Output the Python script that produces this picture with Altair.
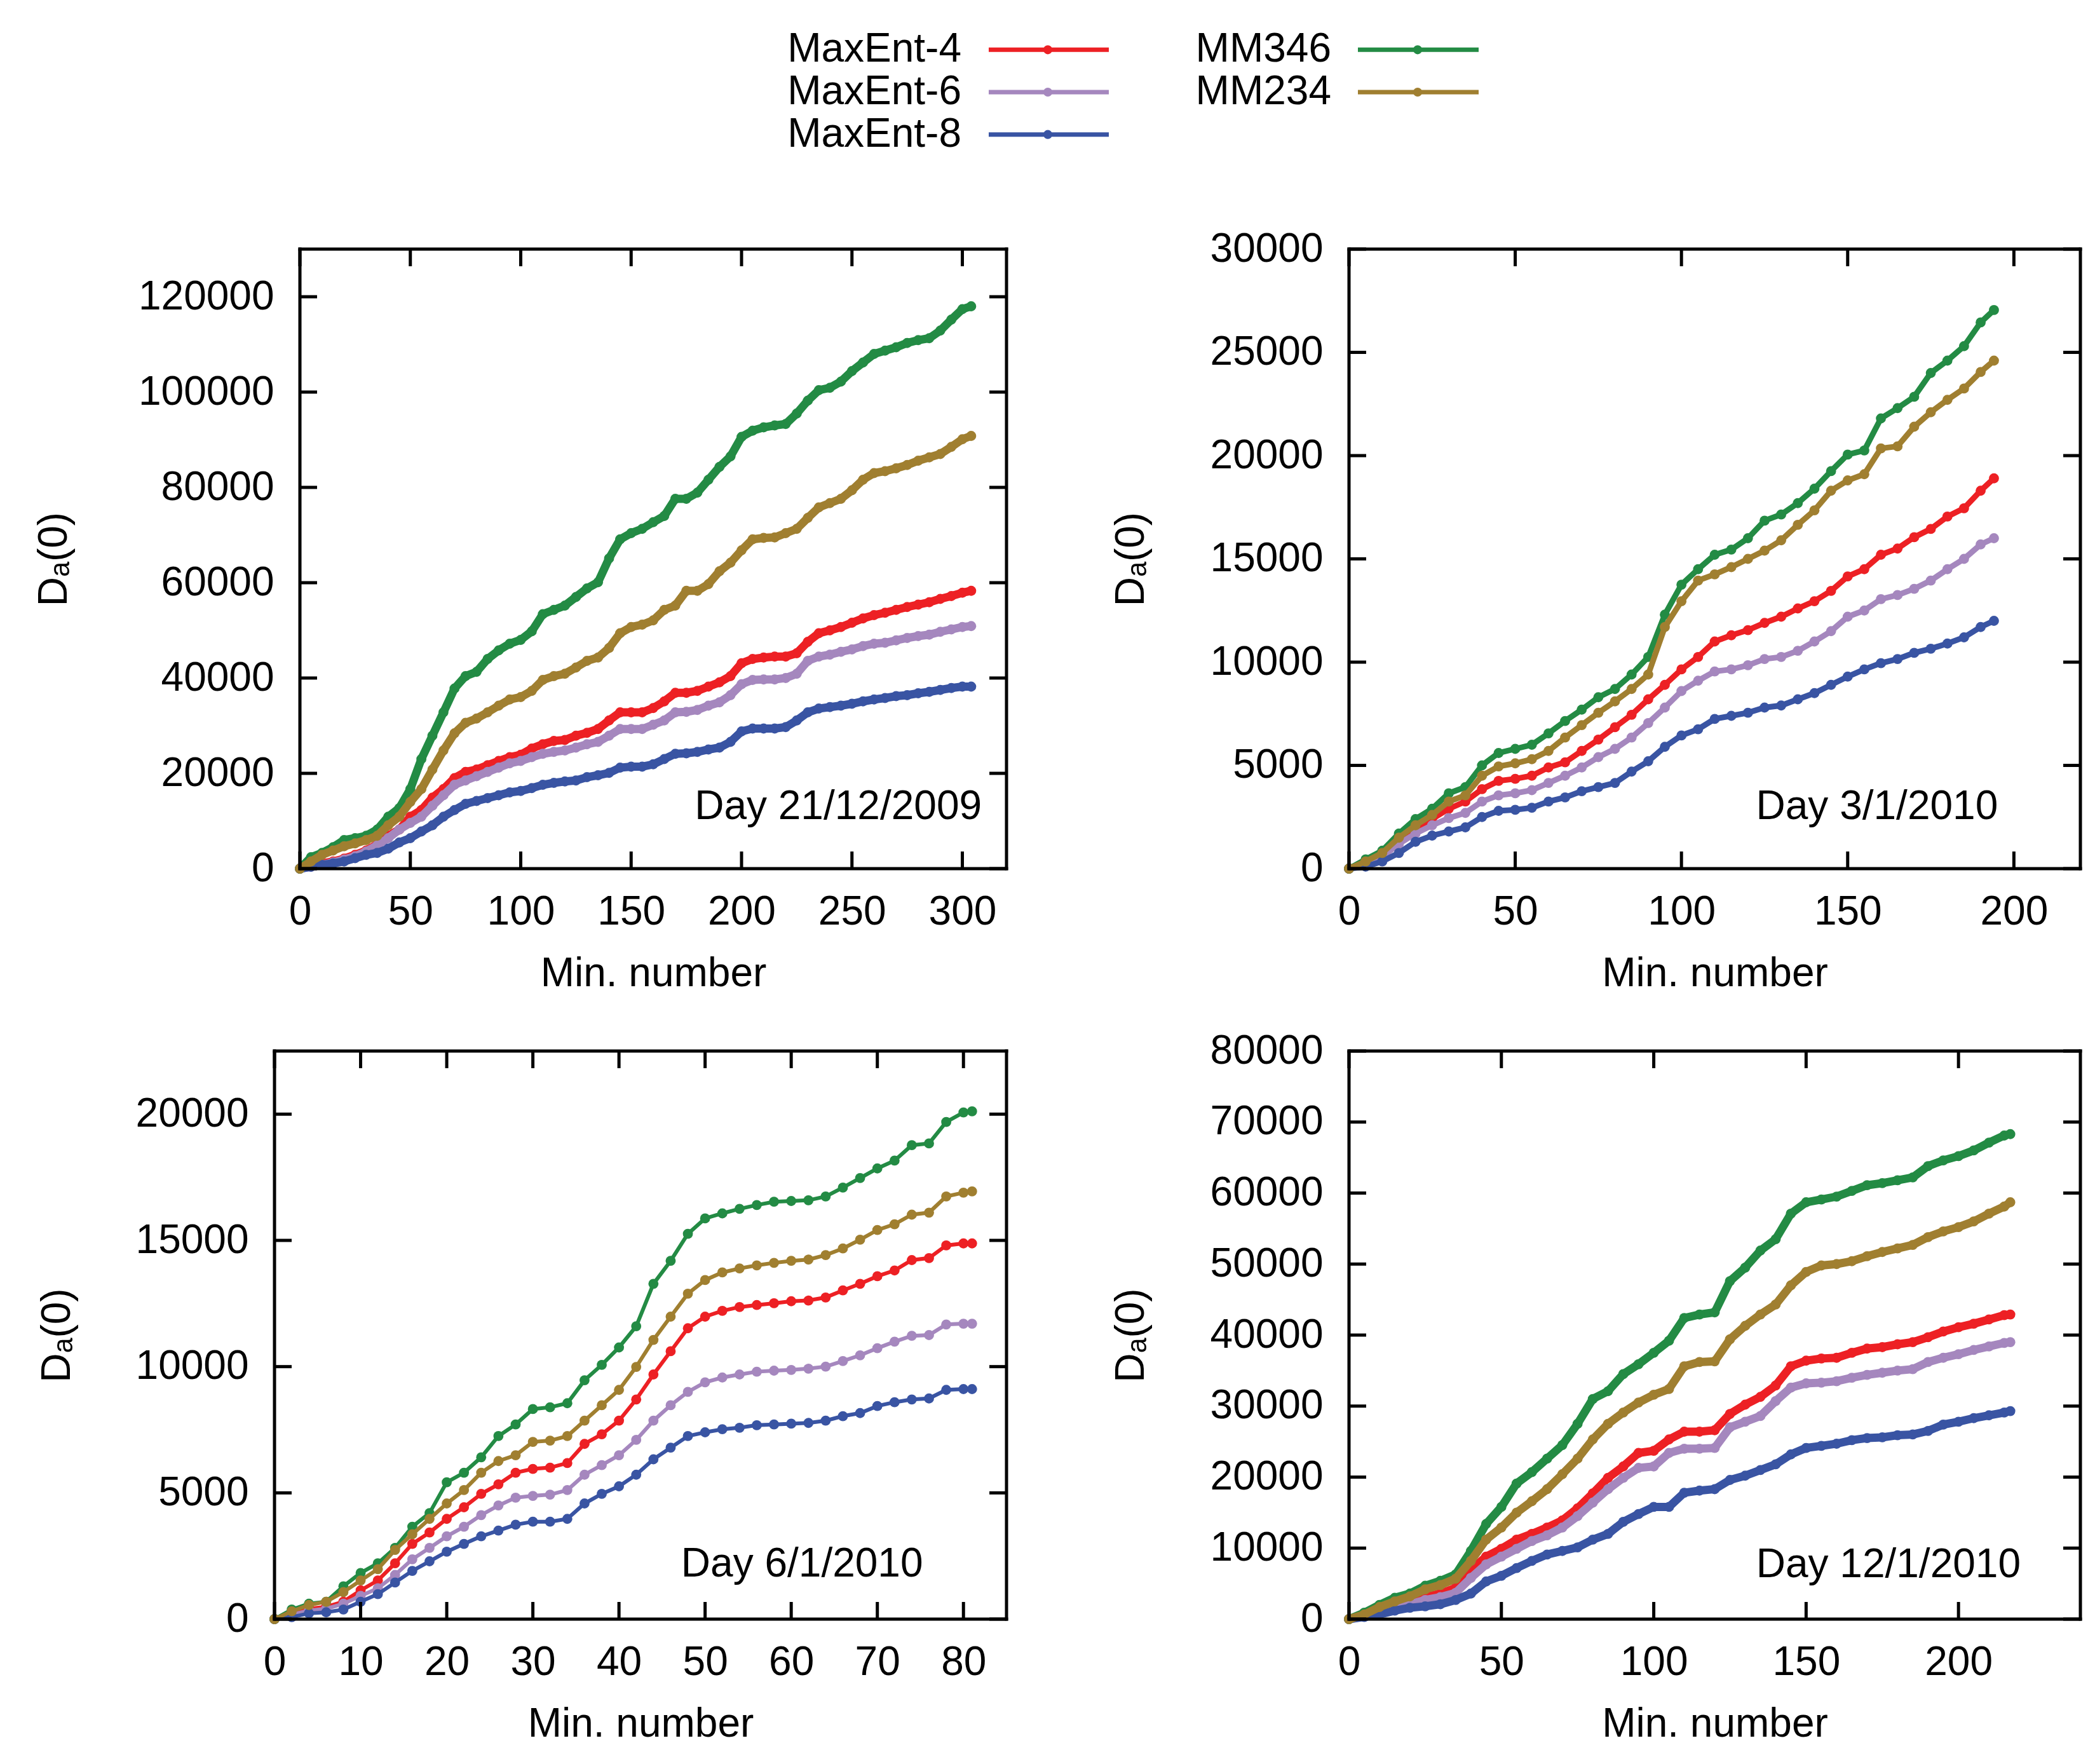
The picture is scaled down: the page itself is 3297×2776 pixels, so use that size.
import altair as alt
import pandas as pd

FONT = "Liberation Sans, Arial, Helvetica, DejaVu Sans, sans-serif"
FS = 64

SERIES = ["MaxEnt-4", "MaxEnt-6", "MaxEnt-8", "MM346", "MM234"]
COLORS = ["#ED2024", "#A587BE", "#3954A3", "#238B44", "#A07F30"]

# ---------------- Panel 1: Day 21/12/2009 ----------------
P1_T = [0, 5, 10, 15, 20, 25, 30, 35, 40, 45, 50, 55, 60, 65, 70, 75, 80, 85, 90, 95,
        100, 105, 110, 115, 120, 125, 130, 135, 140, 145, 150, 155, 160, 165, 170, 175,
        180, 185, 190, 195, 200, 205, 210, 215, 220, 225, 230, 235, 240, 245, 250, 255,
        260, 265, 270, 275, 280, 285, 290, 295, 300, 304]
P1_ME4 = [0, 600, 1100, 1500, 2100, 2900, 3800, 5100, 6900, 8200,
          10900, 12300, 14900, 16700, 19000, 20300, 20800, 21700, 22600, 23400,
          23900, 25200, 26100, 26800, 27000, 27900, 28500, 29300, 31100, 32800,
          32800, 32800, 33700, 35100, 36900, 36900, 37300, 38200, 39100, 40400,
          43100, 44000, 44300, 44500, 44500, 45200, 47600, 49400, 50000, 50700,
          51600, 52500, 53200, 53700, 54300, 54900, 55400, 55900, 56600, 57200,
          57900, 58300]
P1_ME6 = [0, 400, 800, 1300, 1900, 2600, 3600, 4900, 6400, 8200,
          9600, 10900, 13200, 15400, 17600, 18500, 19400, 20300, 21200, 22100,
          22600, 23400, 24100, 24500, 24800, 25400, 26100, 26600, 27900, 29300,
          29300, 29300, 30200, 31100, 32800, 32900, 33300, 34200, 34900, 36400,
          38700, 39600, 39700, 39700, 40000, 40900, 43600, 44500, 44900, 45500,
          46000, 46700, 47200, 47400, 47900, 48400, 48800, 49100, 49700, 50200,
          50700, 50900]
P1_ME8 = [0, 400, 800, 1100, 1500, 2200, 2900, 3300, 4200, 5500,
          6400, 7800, 9100, 10900, 12300, 13600, 14200, 14800, 15400, 16000,
          16300, 16900, 17600, 18000, 18300, 18500, 19200, 19600, 20100, 21200,
          21400, 21400, 21900, 23000, 24100, 24200, 24500, 25000, 25400, 26600,
          28800, 29400, 29400, 29400, 29700, 31100, 32800, 33600, 33900, 34200,
          34600, 35100, 35500, 35800, 36200, 36400, 36800, 37100, 37500, 37900,
          38200, 38200]
P1_MM346 = [0, 2400, 3300, 4500, 6000, 6400, 6900, 8200, 10900, 12700,
            16700, 23000, 27900, 32800, 37800, 40400, 41300, 44000, 45800, 47200,
            48000, 49800, 53400, 54300, 55200, 57000, 58800, 60100, 65100, 69100,
            70400, 71300, 72700, 74000, 77600, 77600, 78900, 81600, 84300, 86500,
            90600, 91900, 92600, 93000, 93300, 95500, 98200, 100400, 100900, 102200,
            104400, 106200, 108000, 108700, 109400, 110300, 110900, 111300, 112900, 115200,
            117400, 118000]
P1_MM234 = [0, 1500, 2900, 3800, 4700, 5300, 6000, 6900, 9100, 10900,
            14000, 16700, 20800, 24800, 28400, 30600, 31500, 32800, 34200, 35500,
            36000, 37300, 39600, 40400, 40900, 42200, 43600, 44300, 46300, 49400,
            50700, 51200, 52100, 54300, 55200, 58300, 58300, 59700, 62400, 64200,
            66800, 69100, 69400, 69500, 70400, 71300, 73600, 75800, 76700, 77600,
            79400, 81600, 83000, 83400, 84000, 84700, 85600, 86300, 87000, 88500,
            90100, 90800]
P1_XTICKS = [0, 50, 100, 150, 200, 250, 300]
P1_YTICKS = [0, 20000, 40000, 60000, 80000, 100000, 120000]

# ---------------- Panel 2: Day 3/1/2010 ----------------
P2_T = [0, 5, 10, 15, 20, 25, 30, 35, 40, 45, 50, 55, 60, 65, 70, 75, 80, 85, 90, 95,
        100, 105, 110, 115, 120, 125, 130, 135, 140, 145, 150, 155, 160, 165, 170, 175,
        180, 185, 190, 194]
P2_ME4 = [0, 250, 650, 1400, 1900, 2400, 2900, 3250, 3850, 4250,
          4350, 4500, 4900, 5150, 5700, 6250, 6850, 7450, 8200, 8900,
          9650, 10250, 11000, 11300, 11550, 11900, 12200, 12600, 12950, 13450,
          14150, 14500, 15200, 15500, 16050, 16450, 17050, 17450, 18300, 18900]
P2_ME6 = [0, 200, 560, 1200, 1700, 2100, 2450, 2700, 3250, 3550,
          3650, 3800, 4150, 4500, 4900, 5400, 5800, 6350, 7050, 7800,
          8600, 9100, 9550, 9650, 9850, 10150, 10250, 10550, 11000, 11500,
          12200, 12500, 13050, 13250, 13550, 13950, 14500, 15000, 15700, 16000]
P2_ME8 = [0, 100, 350, 760, 1300, 1600, 1800, 2000, 2500, 2800,
          2850, 2950, 3250, 3450, 3750, 3950, 4150, 4700, 5200, 5900,
          6450, 6750, 7250, 7400, 7550, 7800, 7900, 8200, 8500, 8900,
          9300, 9650, 9950, 10150, 10450, 10650, 10900, 11200, 11700, 12000]
P2_MM346 = [0, 450, 870, 1700, 2400, 2900, 3650, 3950, 5000, 5600,
            5800, 6000, 6550, 7150, 7700, 8300, 8700, 9400, 10250, 12300,
            13750, 14500, 15200, 15450, 16000, 16850, 17150, 17700, 18400, 19250,
            20050, 20250, 21800, 22300, 22850, 24000, 24600, 25300, 26450, 27050]
P2_MM234 = [0, 350, 760, 1500, 2100, 2600, 3250, 3550, 4500, 4950,
            5100, 5300, 5700, 6350, 6950, 7550, 8100, 8700, 9400, 11700,
            12950, 13950, 14250, 14600, 15000, 15400, 15900, 16650, 17350, 18300,
            18800, 19100, 20350, 20450, 21400, 22100, 22700, 23250, 24050, 24600]
P2_XTICKS = [0, 50, 100, 150, 200]
P2_YTICKS = [0, 5000, 10000, 15000, 20000, 25000, 30000]

# ---------------- Panel 3: Day 6/1/2010 ----------------
P3_T = [0, 2, 4, 6, 8, 10, 12, 14, 16, 18, 20, 22, 24, 26, 28, 30, 32, 34, 36, 38,
        40, 42, 44, 46, 48, 50, 52, 54, 56, 58, 60, 62, 64, 66, 68, 70, 72, 74, 76, 78,
        80, 81]
P3_ME4 = [0, 230, 410, 490, 690, 1140, 1530, 2210, 2980, 3430,
          3970, 4430, 4960, 5340, 5800, 5950, 6000, 6180, 6940, 7320,
          7860, 8700, 9690, 10610, 11520, 11980, 12210, 12360, 12440, 12510,
          12590, 12620, 12740, 13020, 13280, 13580, 13810, 14220, 14300, 14800,
          14880, 14880]
P3_ME6 = [0, 180, 340, 410, 610, 920, 1220, 1750, 2370, 2820,
          3280, 3660, 4120, 4500, 4810, 4880, 4930, 5110, 5720, 6100,
          6490, 7100, 7860, 8470, 9000, 9380, 9570, 9690, 9800, 9840,
          9870, 9920, 10000, 10220, 10450, 10730, 10990, 11220, 11250, 11670,
          11700, 11700]
P3_ME8 = [0, 80, 230, 270, 380, 690, 990, 1450, 1910, 2290,
          2670, 2980, 3280, 3510, 3740, 3860, 3860, 3970, 4580, 4960,
          5260, 5720, 6330, 6790, 7250, 7400, 7520, 7580, 7680, 7710,
          7740, 7770, 7860, 8040, 8160, 8440, 8590, 8700, 8740, 9080,
          9110, 9110]
P3_MM346 = [0, 380, 610, 690, 1300, 1830, 2210, 2820, 3660, 4200,
            5420, 5800, 6410, 7250, 7710, 8320, 8390, 8550, 9460, 10070,
            10760, 11600, 13280, 14190, 15260, 15870, 16070, 16250, 16400, 16530,
            16560, 16590, 16740, 17090, 17470, 17850, 18160, 18770, 18840, 19690,
            20070, 20110]
P3_MM234 = [0, 310, 560, 690, 1070, 1530, 1980, 2740, 3360, 3970,
            4580, 5110, 5800, 6260, 6490, 7020, 7070, 7250, 7860, 8470,
            9080, 9990, 11060, 11980, 12890, 13430, 13730, 13890, 14010, 14110,
            14190, 14240, 14420, 14680, 15030, 15410, 15640, 16020, 16100, 16740,
            16890, 16940]
P3_XTICKS = [0, 10, 20, 30, 40, 50, 60, 70, 80]
P3_YTICKS = [0, 5000, 10000, 15000, 20000]

# ---------------- Panel 4: Day 12/1/2010 ----------------
P4_T = [0, 5, 10, 15, 20, 25, 30, 35, 40, 45, 50, 55, 60, 65, 70, 75, 80, 85, 90, 95,
        100, 105, 110, 115, 120, 125, 130, 135, 140, 145, 150, 155, 160, 165, 170, 175,
        180, 185, 190, 195, 200, 205, 210, 215, 217]
P4_ME4 = [0, 500, 1200, 1900, 2500, 3100, 3600, 4400, 6900, 8800,
          9900, 11200, 12000, 12900, 13900, 15600, 17700, 19900, 21500, 23400,
          23700, 25300, 26400, 26400, 26600, 28900, 30200, 31300, 32900, 35600,
          36400, 36700, 36800, 37500, 38100, 38300, 38700, 39000, 39700, 40500,
          41100, 41600, 42200, 42800, 42900]
P4_ME6 = [0, 400, 900, 1500, 2100, 2700, 3100, 3700, 5800, 7700,
          8800, 9900, 11000, 11800, 12900, 14500, 16400, 18300, 19900, 21300,
          21500, 23400, 24000, 24000, 24100, 27000, 27800, 28600, 30700, 32600,
          33200, 33300, 33500, 34000, 34400, 34700, 35000, 35200, 36200, 36800,
          37300, 37900, 38400, 38900, 39000]
P4_ME8 = [0, 300, 650, 1200, 1600, 1800, 2100, 2700, 3600, 5300,
          6100, 7200, 8200, 9100, 9600, 10100, 11200, 12000, 13700, 14800,
          15800, 15800, 17800, 18100, 18300, 19600, 20200, 21000, 21800, 23200,
          24100, 24400, 24700, 25200, 25500, 25600, 25900, 26000, 26500, 27400,
          27800, 28300, 28700, 29100, 29300]
P4_MM346 = [0, 900, 2000, 3000, 3600, 4700, 5400, 6300, 9600, 13400,
            15800, 19100, 20700, 22600, 24500, 27500, 31000, 32100, 34500, 35900,
            37500, 39200, 42400, 42900, 43200, 47600, 49500, 51900, 53500, 57100,
            58700, 59100, 59500, 60300, 61100, 61400, 61800, 62200, 63800, 64600,
            65200, 66000, 67100, 68100, 68300]
P4_MM234 = [0, 650, 1700, 2500, 3200, 4200, 4800, 5700, 8200, 11200,
            12900, 15000, 16600, 18300, 20400, 22600, 25300, 27500, 29100, 30500,
            31600, 32400, 35600, 36200, 36300, 39400, 41300, 42900, 44300, 47000,
            48900, 49800, 50000, 50400, 51100, 51700, 52200, 52700, 53800, 54600,
            55200, 56000, 57100, 58100, 58700]
P4_XTICKS = [0, 50, 100, 150, 200]
P4_YTICKS = [0, 10000, 20000, 30000, 40000, 50000, 60000, 70000, 80000]

# Panel annotations (data coordinates of the right end of the text baseline)
NOTES = ["Day 21/12/2009", "Day 3/1/2010", "Day 6/1/2010", "Day 12/1/2010"]
NOTE_T = [308.8, 195.2, 75.3, 220.4]
NOTE_V = [10400, 2400, 1674, 5950]

# Legend layout (legend units)
LEG_ROW = [0, 1, 2, 0, 1]
LEG_TEXT_X = [1081, 1081, 1081, 1663, 1663]
LEG_LINE_X1 = [1124, 1124, 1124, 1705, 1705]
LEG_LINE_X2 = [1313, 1313, 1313, 1895, 1895]
LEG_DOT_X = [1217, 1217, 1217, 1799, 1799]
LEG_W = 2836
LEG_H = 200

TICK_LEN = 27
BORDER = 5


def make_panel(t, vals, xmax, ydom, xticks, yticks, w, h, idx, lw, ytp, off=0, title_x=None):
    # off: pixels between the left of the view and the framed plot box
    px_per_unit = (w - off) / xmax
    xmin = -off / px_per_unit
    tick_u = TICK_LEN / px_per_unit
    xs = alt.Scale(domain=[xmin, xmax], nice=False, zero=False)
    ys = alt.Scale(domain=ydom, nice=False, zero=False)
    xa_kw = dict(values=xticks, format="d", title="Min. number", ticks=False, tickSize=0,
                 domain=False, grid=False, labelFont=FONT, labelFontSize=FS,
                 labelColor="black", labelPadding=36, labelFlush=False, labelOverlap=False,
                 labelLimit=0,
                 titleFont=FONT, titleFontSize=FS, titleFontWeight="normal",
                 titleColor="black", titlePadding=33)
    if title_x is not None:
        xa_kw["titleX"] = title_x
    xa = alt.Axis(**xa_kw)
    ya = alt.Axis(values=yticks, format="d", title="Dₐ(0)", ticks=False, tickSize=0,
                  domain=False, grid=False, labelFont=FONT, labelFontSize=FS,
                  labelColor="black", labelPadding=41 - off, labelFlush=False,
                  labelOverlap=False, labelLimit=0,
                  titleFont=FONT, titleFontSize=FS, titleFontWeight="normal",
                  titleColor="black", titlePadding=ytp)
    X = alt.X("t:Q", scale=xs, axis=xa)
    Y = alt.Y("value:Q", scale=ys, axis=ya)
    layers = []
    for name, col, v in zip(SERIES, COLORS, vals):
        df = pd.DataFrame({"t": t, "value": v, "series": name})
        base = alt.Chart(df)
        layers.append(base.mark_line(color=col, strokeWidth=lw).encode(x=X, y=Y))
        layers.append(base.mark_circle(color=col, size=250, opacity=1).encode(x=X, y=Y))
    # frame
    rk = dict(color="black", strokeWidth=BORDER, strokeCap="square")
    sides = pd.DataFrame({"t": [0, xmax]})
    horiz = pd.DataFrame({"t": [0], "t2": [xmax]})
    layers.append(alt.Chart(sides).mark_rule(**rk).encode(
        x=X, y=alt.value(0), y2=alt.value(h)))
    layers.append(alt.Chart(horiz).mark_rule(**rk).encode(
        x=X, x2="t2:Q", y=alt.value(0)))
    layers.append(alt.Chart(horiz).mark_rule(**rk).encode(
        x=X, x2="t2:Q", y=alt.value(h)))
    # inward ticks
    xt = pd.DataFrame({"t": xticks})
    layers.append(alt.Chart(xt).mark_rule(color="black", strokeWidth=BORDER).encode(
        x=X, y=alt.value(0), y2=alt.value(TICK_LEN)))
    layers.append(alt.Chart(xt).mark_rule(color="black", strokeWidth=BORDER).encode(
        x=X, y=alt.value(h - TICK_LEN), y2=alt.value(h)))
    ytl = pd.DataFrame({"value": yticks, "t": [0] * len(yticks), "t2": [tick_u] * len(yticks)})
    ytr = pd.DataFrame({"value": yticks, "t": [xmax - tick_u] * len(yticks),
                        "t2": [xmax] * len(yticks)})
    layers.append(alt.Chart(ytl).mark_rule(color="black", strokeWidth=BORDER).encode(
        y=Y, x=X, x2="t2:Q"))
    layers.append(alt.Chart(ytr).mark_rule(color="black", strokeWidth=BORDER).encode(
        y=Y, x=X, x2="t2:Q"))
    note = pd.DataFrame({"t": [NOTE_T[idx]], "value": [NOTE_V[idx]], "label": [NOTES[idx]]})
    layers.append(alt.Chart(note).mark_text(align="right", baseline="alphabetic", font=FONT,
                                            fontSize=FS, color="black").encode(
        x=X, y=Y, text="label:N"))
    return alt.layer(*layers).properties(
        width=w, height=h, view=alt.ViewBackground(strokeWidth=0))


p1 = make_panel(P1_T, [P1_ME4, P1_ME6, P1_ME8, P1_MM346, P1_MM234], 320, [0, 130000],
                P1_XTICKS, P1_YTICKS, 1152, 975, 0, 13, 115, off=40, title_x=596)
p2 = make_panel(P2_T, [P2_ME4, P2_ME6, P2_ME8, P2_MM346, P2_MM234], 220, [0, 30000],
                P2_XTICKS, P2_YTICKS, 1151, 975, 1, 9, 111)
p3 = make_panel(P3_T, [P3_ME4, P3_ME6, P3_ME8, P3_MM346, P3_MM234], 85, [0, 22500],
                P3_XTICKS, P3_YTICKS, 1152, 894, 2, 6, 110)
p4 = make_panel(P4_T, [P4_ME4, P4_ME6, P4_ME8, P4_MM346, P4_MM234], 240, [0, 80000],
                P4_XTICKS, P4_YTICKS, 1151, 894, 3, 13, 111)

# Legend
leg_df = pd.DataFrame({"name": SERIES, "row": LEG_ROW, "xt": LEG_TEXT_X,
                       "x1": LEG_LINE_X1, "x2": LEG_LINE_X2, "xd": LEG_DOT_X})
LX = alt.Scale(domain=[0, LEG_W], nice=False, zero=False)
LY = alt.Scale(domain=[-0.5, 2.5], reverse=True, nice=False, zero=False)
CS = alt.Scale(domain=SERIES, range=COLORS)
lb = alt.Chart(leg_df)
leg_text = lb.mark_text(align="right", baseline="middle", font=FONT, fontSize=FS,
                        color="black").encode(
    x=alt.X("xt:Q", scale=LX, axis=None), y=alt.Y("row:Q", scale=LY, axis=None),
    text="name:N")
leg_line = lb.mark_rule(strokeWidth=7).encode(
    x=alt.X("x1:Q", scale=LX, axis=None), x2="x2:Q",
    y=alt.Y("row:Q", scale=LY, axis=None),
    color=alt.Color("name:N", scale=CS, legend=None))
leg_dot = lb.mark_circle(size=200, opacity=1).encode(
    x=alt.X("xd:Q", scale=LX, axis=None), y=alt.Y("row:Q", scale=LY, axis=None),
    color=alt.Color("name:N", scale=CS, legend=None))
legend = alt.layer(leg_text, leg_line, leg_dot).properties(
    width=LEG_W, height=LEG_H, view=alt.ViewBackground(strokeWidth=0))

row1 = alt.hconcat(p1, p2, spacing=539, bounds="flush")
row2 = alt.hconcat(p3, p4, spacing=539, bounds="flush")
grid = alt.vconcat(row1, row2, spacing=58)

chart = alt.vconcat(legend, grid, spacing=115).properties(
    padding={"left": 45, "top": 37, "right": 5, "bottom": 5},
    background="white",
).configure_view(strokeWidth=0)

chart.save("out.html", embed_options={"renderer": "svg", "actions": False})
